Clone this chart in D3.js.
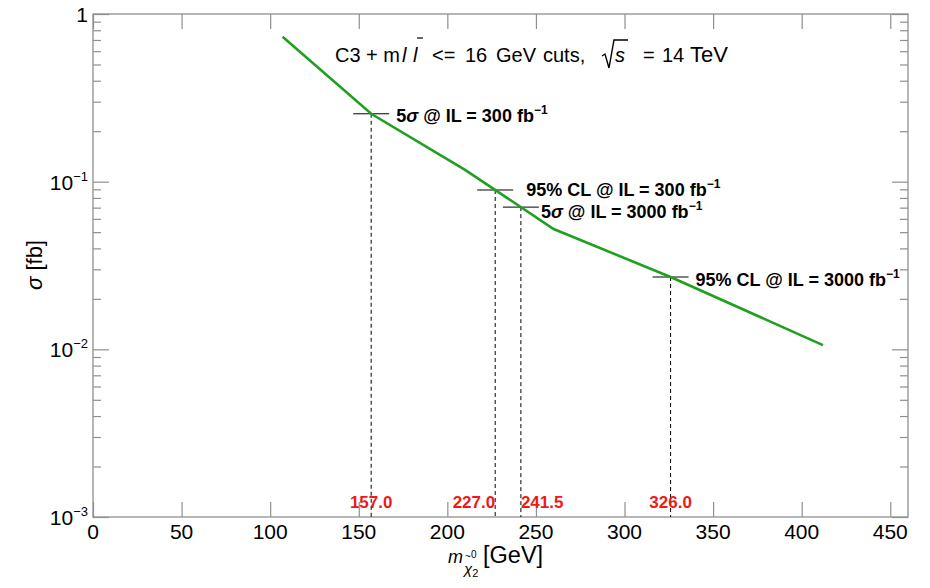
<!DOCTYPE html>
<html>
<head>
<meta charset="utf-8">
<script src="https://cdn.jsdelivr.net/npm/d3@7"></script>
<style>
  html, body { margin: 0; padding: 0; background: #fff; }
  svg { display: block; font-family: "Liberation Sans", Arial, sans-serif; }
</style>
</head>
<body>
<div id="chart"></div>
<script>
// cross-section curve (GeV, fb)
const curveMass = [107, 157, 210, 260, 326, 412];
const curveSigma = [0.732, 0.254, 0.1175, 0.0522, 0.0270, 0.0106];

// discovery / exclusion reach points
const limitMass = [157.0, 227.0, 241.5, 326.0];
const limitSigma = [0.254, 0.0892, 0.0705, 0.0270];
const limitKind = ["5σ", "95% CL", "5σ", "95% CL"];
const limitLumi = ["300", "300", "3000", "3000"];

const xTicks = [0, 50, 100, 150, 200, 250, 300, 350, 400, 450];
const yDecades = [1e-3, 1e-2, 1e-1, 1];
const yDecadeLabels = [["10", "−3"], ["10", "−2"], ["10", "−1"], ["1", ""]];

const width = 930, height = 588;
const plotL = 93, plotR = 908, plotT = 14, plotB = 517;
const axisColor = "#8f8f8f";
const font = 21;

// small layout tweaks for the labels
const labelShift = [25, 31, 20, 25];
const labelDrop = [8, 6.5, 11, 9];
const valueAnchor = ["middle", "end", "start", "middle"];

const svg = d3.select("#chart").append("svg")
  .attr("width", width)
  .attr("height", height);

const x = d3.scaleLinear().domain([0, 460]).range([plotL, plotR]);
const y = d3.scaleLog().domain([1e-3, 1]).range([plotB, plotT]);

// minor ticks 2..9 in each decade
const minors = [];
yDecades.slice(0, -1).forEach(d => {
  for (let k = 2; k <= 9; k++) minors.push(d * k);
});

// frame
svg.append("rect")
  .attr("x", plotL).attr("y", plotT)
  .attr("width", plotR - plotL).attr("height", plotB - plotT)
  .attr("fill", "none").attr("stroke", axisColor).attr("stroke-width", 1.3);

function styleAxis(g) {
  g.select(".domain").remove();
  g.selectAll("line").attr("stroke", axisColor).attr("stroke-width", 1.2);
  g.selectAll("text").remove();
}

svg.append("g").attr("transform", `translate(0,${plotB})`)
  .call(d3.axisBottom(x).tickValues(xTicks).tickSize(-15)).call(styleAxis);
svg.append("g").attr("transform", `translate(0,${plotT})`)
  .call(d3.axisTop(x).tickValues(xTicks).tickSize(-15)).call(styleAxis);
svg.append("g").attr("transform", `translate(${plotL},0)`)
  .call(d3.axisLeft(y).tickValues(yDecades).tickSize(-16)).call(styleAxis);
svg.append("g").attr("transform", `translate(${plotL},0)`)
  .call(d3.axisLeft(y).tickValues(minors).tickSize(-8)).call(styleAxis);
svg.append("g").attr("transform", `translate(${plotR},0)`)
  .call(d3.axisRight(y).tickValues(yDecades).tickSize(-16)).call(styleAxis);
svg.append("g").attr("transform", `translate(${plotR},0)`)
  .call(d3.axisRight(y).tickValues(minors).tickSize(-8)).call(styleAxis);

// x tick labels
svg.append("g").selectAll("text")
  .data(xTicks)
  .enter().append("text")
  .attr("x", d => x(d))
  .attr("y", plotB + 22)
  .attr("text-anchor", "middle")
  .attr("font-size", font)
  .text(d => d);

// y tick labels with superscript exponents
const yl = svg.append("g").selectAll("text")
  .data(yDecades)
  .enter().append("text")
  .attr("x", plotL - 5)
  .attr("y", d => y(d) + 8)
  .attr("text-anchor", "end")
  .attr("font-size", font);
yl.append("tspan").text((d, i) => yDecadeLabels[i][0]);
yl.append("tspan")
  .attr("font-size", 13)
  .attr("dy", -9)
  .text((d, i) => yDecadeLabels[i][1]);

// axis titles
svg.append("text")
  .attr("transform", `translate(42,265) rotate(-90)`)
  .attr("text-anchor", "middle")
  .attr("font-size", 22)
  .call(t => {
    t.append("tspan").attr("font-style", "italic").text("σ");
    t.append("tspan").text(" [fb]");
  });

const xt = svg.append("g").attr("transform", "translate(448,563)");
const mText = xt.append("text").attr("font-size", 18).attr("font-style", "italic").text("m");
const mW = mText.node().getComputedTextLength();
const chi = xt.append("text").attr("x", mW + 1).attr("y", 11)
  .attr("font-size", 15).attr("font-style", "italic").text("χ");
const chiW = chi.node().getComputedTextLength();
xt.append("text").attr("x", mW + 1 + chiW).attr("y", 14)
  .attr("font-size", 11).text("2");
xt.append("text").attr("x", mW + 2).attr("y", -3)
  .attr("font-size", 10).text("~");
xt.append("text").attr("x", mW + 8).attr("y", -5)
  .attr("font-size", 10).text("0");
xt.append("text").attr("x", 35).attr("font-size", 23.5).text("[GeV]");

// header, pieces placed as in the original figure
const titleParts = [
  { t: "C3 + m", x: 335 },
  { t: "l", x: 402, it: true },
  { t: "l", x: 413, it: true },
  { t: "<=", x: 432 },
  { t: "16", x: 465 },
  { t: "GeV", x: 496 },
  { t: "cuts,", x: 543 },
  { t: "s", x: 615, it: true },
  { t: "=", x: 643 },
  { t: "14", x: 662 },
  { t: "TeV", x: 690 }
];
const titleBase = 62;
const tg = svg.append("g").attr("font-size", 20);
const tNodes = titleParts.map(p => tg.append("text")
  .attr("x", p.x).attr("y", titleBase)
  .attr("font-style", p.it ? "italic" : null)
  .text(p.t).node());
d3.select(tNodes[10]).attr("font-size", 22);

// bar over the second lepton
const l2 = tNodes[2].getBBox();
tg.append("line")
  .attr("x1", l2.x + 4).attr("x2", l2.x + 10)
  .attr("y1", titleBase - 24).attr("y2", titleBase - 24)
  .attr("stroke", "#000").attr("stroke-width", 1.2);

// square root sign over s
const sb = tNodes[7].getBBox();
const r0 = sb.x - 13;
tg.append("path")
  .attr("d", `M${r0},${titleBase - 6} L${r0 + 3},${titleBase - 8} L${r0 + 7},${titleBase + 6}`
    + ` L${r0 + 12},${titleBase - 22} L${sb.x + sb.width + 3},${titleBase - 22}`)
  .attr("fill", "none")
  .attr("stroke", "#000")
  .attr("stroke-width", 1.4)
  .attr("stroke-linejoin", "miter");

// dashed drop lines
svg.append("g").selectAll("line")
  .data(limitMass)
  .enter().append("line")
  .attr("x1", d => x(d)).attr("x2", d => x(d))
  .attr("y1", (d, i) => y(limitSigma[i]))
  .attr("y2", plotB)
  .attr("stroke", "#000").attr("stroke-width", 1)
  .attr("stroke-dasharray", "4,3");

// horizontal markers
svg.append("g").selectAll("line")
  .data(limitMass)
  .enter().append("line")
  .attr("x1", d => x(d) - 18).attr("x2", d => x(d) + 18)
  .attr("y1", (d, i) => y(limitSigma[i]))
  .attr("y2", (d, i) => y(limitSigma[i]))
  .attr("stroke", "#000").attr("stroke-width", 1);

// curve
const line = d3.line()
  .x(d => x(d[0]))
  .y(d => y(d[1]));
svg.append("path")
  .datum(curveMass.map((m, i) => [m, curveSigma[i]]))
  .attr("d", line)
  .attr("fill", "none")
  .attr("stroke", "#1fa01f")
  .attr("stroke-width", 2.6);

// annotations
const ann = svg.append("g").selectAll("text")
  .data(limitMass)
  .enter().append("text")
  .attr("x", (d, i) => x(d) + labelShift[i])
  .attr("y", (d, i) => y(limitSigma[i]) + labelDrop[i])
  .attr("font-size", 18)
  .attr("font-weight", "bold");
ann.each(function(d, i) {
  const t = d3.select(this);
  const kind = limitKind[i];
  if (kind === "5σ") {
    t.append("tspan").text("5");
    t.append("tspan").attr("font-style", "italic").text("σ");
  } else {
    t.append("tspan").text(kind);
  }
  t.append("tspan").text(` @ IL = ${limitLumi[i]} fb`);
  t.append("tspan").attr("font-size", 12).attr("dy", -8).text("−1");
});

// red value labels
svg.append("g").selectAll("text")
  .data(limitMass)
  .enter().append("text")
  .attr("x", d => x(d))
  .attr("y", plotB - 9)
  .attr("text-anchor", (d, i) => valueAnchor[i])
  .attr("font-size", 17)
  .attr("font-weight", "bold")
  .attr("fill", "#f01818")
  .text(d => d.toFixed(1));
</script>
</body>
</html>
